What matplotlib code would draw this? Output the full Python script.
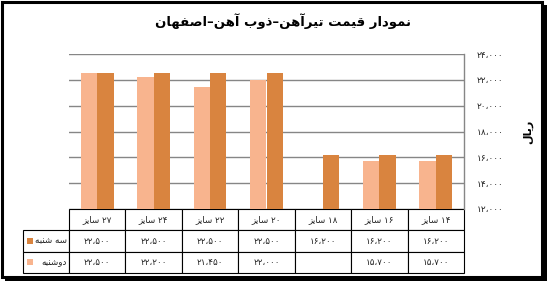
import numpy as np
import matplotlib
matplotlib.use('Agg')
import matplotlib.pyplot as plt
from matplotlib.patches import Rectangle
from matplotlib.ticker import FuncFormatter

plt.rcParams['font.family'] = ['DejaVu Sans']

# data (left to right as in the chart)
sizes = ['۲۷', '۲۴', '۲۲', '۲۰', '۱۸', '۱۶', '۱۴']
tuesday = [22500, 22500, 22500, 22500, 16200, 16200, 16200]
monday = [22500, 22200, 21450, 22000, None, 15700, 15700]
title = 'نمودار قیمت تیرآهن–ذوب آهن–اصفهان'
tue_name = 'سه شنبه'
mon_name = 'دوشنبه'
size_word = 'سایز'
unit = 'ریال'

light = '#F8B48E'
dark = '#D9843F'

# simple arabic shaping: (isolated, final, initial, medial)
forms = {
    'ا': ('\uFE8D', '\uFE8E', None, None),
    'آ': ('\uFE81', '\uFE82', None, None),
    'د': ('\uFEA9', '\uFEAA', None, None),
    'ذ': ('\uFEAB', '\uFEAC', None, None),
    'ر': ('\uFEAD', '\uFEAE', None, None),
    'ز': ('\uFEAF', '\uFEB0', None, None),
    'و': ('\uFEED', '\uFEEE', None, None),
    'ب': ('\uFE8F', '\uFE90', '\uFE91', '\uFE92'),
    'ت': ('\uFE95', '\uFE96', '\uFE97', '\uFE98'),
    'س': ('\uFEB1', '\uFEB2', '\uFEB3', '\uFEB4'),
    'ش': ('\uFEB5', '\uFEB6', '\uFEB7', '\uFEB8'),
    'ص': ('\uFEB9', '\uFEBA', '\uFEBB', '\uFEBC'),
    'ف': ('\uFED1', '\uFED2', '\uFED3', '\uFED4'),
    'ق': ('\uFED5', '\uFED6', '\uFED7', '\uFED8'),
    'ل': ('\uFEDD', '\uFEDE', '\uFEDF', '\uFEE0'),
    'م': ('\uFEE1', '\uFEE2', '\uFEE3', '\uFEE4'),
    'ن': ('\uFEE5', '\uFEE6', '\uFEE7', '\uFEE8'),
    'ه': ('\uFEE9', '\uFEEA', '\uFEEB', '\uFEEC'),
    'ی': ('\uFBFC', '\uFBFD', '\uFEF3', '\uFEF4'),
}


def rtl(s):
    out = []
    for i, ch in enumerate(s):
        if ch not in forms:
            out.append(ch)
            continue
        prev = s[i - 1] if i > 0 else ''
        nxt = s[i + 1] if i + 1 < len(s) else ''
        dual = forms[ch][2] is not None
        pj = prev in forms and forms[prev][2] is not None
        nj = dual and nxt in forms
        if pj and nj:
            out.append(forms[ch][3])
        elif pj:
            out.append(forms[ch][1])
        elif nj:
            out.append(forms[ch][2])
        else:
            out.append(forms[ch][0])
    return ''.join(out[::-1])


def fa(v):
    s = f'{int(v):,}'.replace(',', '،')
    return s.translate(str.maketrans('0123456789', '۰۱۲۳۴۵۶۷۸۹'))


fig = plt.figure(figsize=(5.56, 2.86), dpi=100)

# frame with shadow
fig.add_artist(Rectangle((5 / 556, 5 / 286), 542 / 556, 276 / 286, transform=fig.transFigure,
                         facecolor='black', edgecolor='none', zorder=-2))
fig.add_artist(Rectangle((1.5 / 556, 9 / 286), 540 / 556, 275.5 / 286, transform=fig.transFigure,
                         facecolor='white', edgecolor='black', linewidth=2.2, zorder=-1))

ax = fig.add_axes([69 / 556, 1 - 209 / 286, 395 / 556, 155 / 286])
ax.set_facecolor('none')

x = np.arange(len(sizes))
w = 0.29
mon_vals = [v if v is not None else 0 for v in monday]
ax.bar(x - w / 2, mon_vals, w, color=light, zorder=3)
ax.bar(x + w / 2, tuesday, w, color=dark, zorder=3)

ax.set_xlim(-0.5, len(sizes) - 0.5)
ax.set_ylim(12000, 24000)
ax.set_yticks(np.arange(12000, 24001, 2000))
ax.yaxis.set_major_formatter(FuncFormatter(lambda v, p: fa(v)))
ax.yaxis.tick_right()
ax.tick_params(axis='y', length=0, pad=9, labelsize=6.5, labelcolor='#222222')
ax.set_xticks([])
ax.grid(axis='y', color='#868686', linewidth=1)
ax.set_axisbelow(True)
for side in ['left', 'bottom', 'top']:
    ax.spines[side].set_visible(False)
ax.spines['right'].set_color('#868686')
ax.spines['right'].set_linewidth(1)

ax.set_ylabel(rtl(unit), rotation=90, fontsize=8, fontweight='bold')
ax.yaxis.set_label_position('right')
ax.yaxis.set_label_coords(1.15, 0.5)

fig.text(283 / 556, 1 - 21 / 286, rtl(title), ha='center', va='center',
         fontsize=9.5, fontweight='bold')

# data table
lab_w = 46 / 395
cells = [[''] + [rtl(size_word) + ' ' + s for s in sizes],
         [rtl(tue_name)] + [fa(v) for v in tuesday],
         [rtl(mon_name)] + [fa(v) if v is not None else '' for v in monday]]
tbl = ax.table(cellText=cells, cellLoc='center', colWidths=[lab_w] + [1 / 7] * 7,
               bbox=[-lab_w, -0.413, 1 + lab_w, 0.413])
tbl.auto_set_font_size(False)
tbl.set_fontsize(6.3)
for (r, c), cell in tbl.get_celld().items():
    cell.set_edgecolor('black')
    cell.set_linewidth(0.8)
    cell.get_text().set_color('#222222')
    if c == 0:
        cell.get_text().set_ha('right')
        cell._loc = 'right'
        cell.PAD = 0.05
tbl[0, 0].visible_edges = 'open'

# legend swatches in the table
sw = 6 / 395
for row, col in [(1, dark), (2, light)]:
    yc = -0.413 * (row + 0.5) / 3
    ax.add_patch(Rectangle((-lab_w + 4 / 395, yc - 3 / 155), sw, 6 / 155,
                           transform=ax.transAxes, facecolor=col, edgecolor='none',
                           clip_on=False, zorder=5))

fig.savefig('out.png', dpi=100)
